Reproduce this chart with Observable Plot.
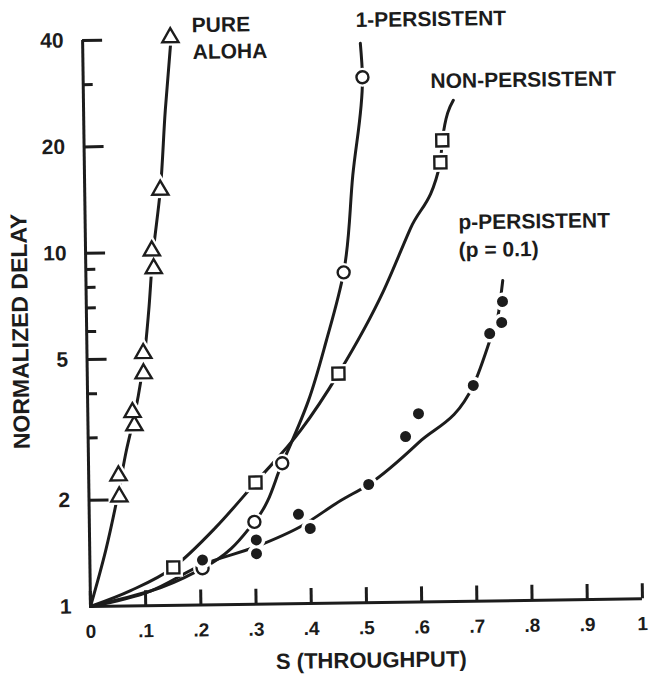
<!DOCTYPE html>
<html><head><meta charset="utf-8">
<script src="https://cdn.jsdelivr.net/npm/d3@7"></script>
<script src="https://cdn.jsdelivr.net/npm/@observablehq/plot@0.6"></script>
<style>html,body{margin:0;padding:0;background:#fff;} svg{display:block}</style>
</head><body><div id="chart"></div>
<script>
// ---- measured points (throughput S, normalized delay) ----
const alohaS = [0.055, 0.054, 0.084, 0.081, 0.102, 0.102, 0.123, 0.120, 0.137, 0.159];
const alohaD = [2.04, 2.34, 3.24, 3.53, 4.54, 5.18, 9.0, 10.1, 15.0, 40.5];
const onePS = [0.204, 0.299, 0.351, 0.467, 0.506];
const onePD = [1.27, 1.71, 2.50, 8.62, 30.7];
const nonPS = [0.151, 0.302, 0.455, 0.645, 0.649];
const nonPD = [1.28, 2.21, 4.46, 17.5, 20.2];
const pPS = [0.204, 0.302, 0.302, 0.379, 0.400, 0.507, 0.575, 0.599, 0.699, 0.730, 0.752, 0.754];
const pPD = [1.34, 1.52, 1.39, 1.79, 1.63, 2.16, 2.94, 3.41, 4.08, 5.71, 6.13, 7.03];

// ---- analytic curves ----
const alohaLineS = [0, 0.029, 0.054, 0.069, 0.083, 0.092, 0.102, 0.113, 0.121, 0.137, 0.148, 0.159];
const alohaLineD = [1, 1.44, 2.12, 2.76, 3.39, 3.94, 4.85, 6.85, 9.55, 15.0, 25.2, 38.4];
const onePLineS = [0, 0.109, 0.204, 0.299, 0.351, 0.400, 0.434, 0.467, 0.486, 0.506, 0.503];
const onePLineD = [1, 1.10, 1.27, 1.71, 2.50, 3.75, 5.54, 8.62, 16.2, 30.7, 38.3];
const nonPLineS = [0, 0.073, 0.151, 0.228, 0.302, 0.385, 0.455, 0.539, 0.589, 0.645, 0.649, 0.670];
const nonPLineD = [1, 1.105, 1.28, 1.65, 2.21, 3.09, 4.46, 7.63, 11.4, 17.5, 20.2, 26.2];
const pPLineS = [0, 0.109, 0.204, 0.304, 0.382, 0.456, 0.507, 0.598, 0.699, 0.730, 0.747, 0.755];
const pPLineD = [1, 1.10, 1.30, 1.46, 1.65, 1.95, 2.16, 2.82, 4.08, 5.46, 6.59, 8.06];

// ---- annotations ----
const labelText = ["PURE", "ALOHA", "1-PERSISTENT", "NON-PERSISTENT", "p-PERSISTENT", "(p = 0.1)"];
const labelS = [0.198, 0.199, 0.495, 0.629, 0.676, 0.676];
const labelD = [43.7, 36.7, 44.5, 29.7, 11.8, 9.85];

// ---- ticks ----
const xTicks = [0, 0.1, 0.2, 0.3, 0.4, 0.5, 0.6, 0.7, 0.8, 0.9, 1];
const xTickLabels = ["0", ".1", ".2", ".3", ".4", ".5", ".6", ".7", ".8", ".9", "1"];
const yLabelTicks = [1, 2, 5, 10, 20, 40];
const yMajorTicks = [2, 5, 10, 20, 40];
const yMinorTicks = [3, 4, 6, 7, 8, 9, 30];
const xTitle = "S (THROUGHPUT)";
const yTitle = "NORMALIZED DELAY";

const ink = "#1c1c1c";
const font = "'Liberation Sans', Arial, Helvetica, sans-serif";
const W = 660, H = 674, ML = 90, MR = 18, MT = 40, MB = 68;
const frameW = W - ML - MR, frameH = H - MT - MB;
const pts = (S, D) => S.map((s, i) => ({s, d: D[i]}));
const labels = labelText.map((t, i) => ({t, s: labelS[i], d: labelD[i]}));

function markers(data, symbol, r, filled) {
  return [
    Plot.dot(data, {x: "s", y: "d", symbol, r, fill: "#fff", stroke: "#fff", strokeWidth: 7}),
    Plot.dot(data, {x: "s", y: "d", symbol, r, fill: filled ? ink : "#fff", stroke: filled ? "none" : ink, strokeWidth: 2.4})
  ];
}
function curve(S, D, c) {
  return Plot.line(pts(S, D), {x: "s", y: "d", curve: c, stroke: ink, strokeWidth: 3, strokeLinecap: "round"});
}

const chart = Plot.plot({
  width: W, height: H,
  marginLeft: ML, marginRight: MR, marginTop: MT, marginBottom: MB,
  style: {fontFamily: font, background: "#fff", color: ink, overflow: "visible"},
  x: {domain: [0, 1], label: null},
  y: {type: "log", domain: [1, 40], label: null},
  marks: [
    Plot.axisY(yLabelTicks, {tickSize: 0, tickPadding: 19, tickFormat: d => String(d), fontSize: 21, fontWeight: "bold", label: null}),
    Plot.axisX(xTicks, {tickSize: 0, tickPadding: 18, tickFormat: d => xTickLabels[xTicks.indexOf(d)], fontSize: 19, fontWeight: "bold", label: null}),
    curve(alohaLineS, alohaLineD, "monotone-y"),
    curve(onePLineS, onePLineD, "monotone-y"),
    curve(nonPLineS, nonPLineD, "monotone-x"),
    curve(pPLineS, pPLineD, "monotone-x"),
    ...markers(pts(alohaS, alohaD), "triangle", 6, false),
    ...markers(pts(onePS, onePD), "circle", 6, false),
    ...markers(pts(nonPS, nonPD), "square", 6.8, false),
    ...markers(pts(pPS, pPD), "circle", 5.5, true),
    // inward ticks on both axes
    Plot.tickY(yMajorTicks, {y: d => d, insetRight: frameW - 20, stroke: ink, strokeWidth: 3}),
    Plot.tickY(yMinorTicks, {y: d => d, insetRight: frameW - 10, stroke: ink, strokeWidth: 3}),
    Plot.tickX(xTicks, {x: d => d, insetTop: frameH - 15, stroke: ink, strokeWidth: 3}),
    Plot.ruleX([0], {y1: 1, y2: 40, stroke: ink, strokeWidth: 3}),
    Plot.ruleY([1], {x1: 0, x2: 1, stroke: ink, strokeWidth: 3}),
    Plot.text(labels, {x: "s", y: "d", text: "t", textAnchor: "start", lineAnchor: "middle", fontSize: 21, fontWeight: "bold", fill: ink}),
    Plot.text([yTitle], {text: d => d, frameAnchor: "left", textAnchor: "middle", lineAnchor: "middle", rotate: -90, dx: -66, dy: 7, fontSize: 23, fontWeight: "bold", fill: ink}),
    Plot.text([xTitle], {text: d => d, frameAnchor: "bottom", textAnchor: "middle", lineAnchor: "middle", dx: 4, dy: 58, fontSize: 22, fontWeight: "bold", fill: ink})
  ]
});
chart.style.transform = "rotate(-0.8deg)";
chart.style.transformOrigin = "90px 606px";
document.getElementById("chart").appendChild(chart);
</script>
</body></html>
